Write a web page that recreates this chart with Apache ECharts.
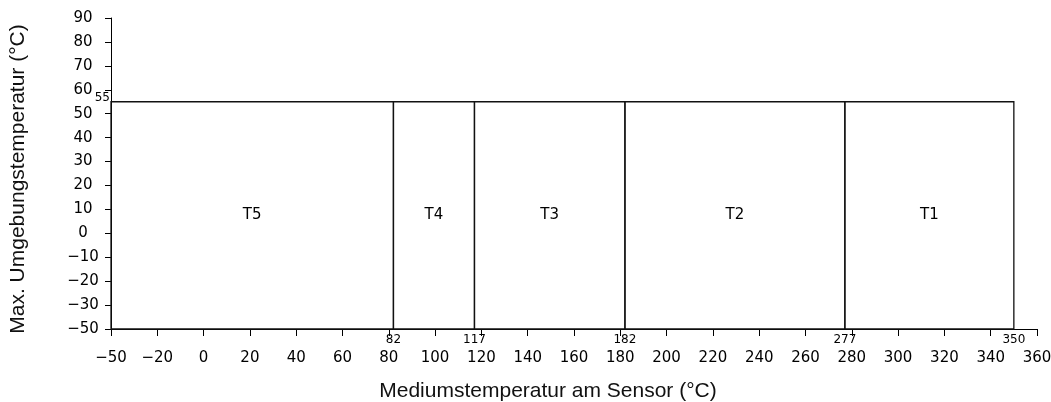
<!DOCTYPE html>
<html>
<head>
<meta charset="utf-8">
<script src="https://cdn.jsdelivr.net/npm/echarts@6/dist/echarts.min.js"></script>
<style>html,body{margin:0;padding:0;background:#fff}#c{width:1051px;height:402px}</style>
</head>
<body>
<div id="c"></div>
<script>
// ---- data ----
const xTickValues = [-50, -20, 0, 20, 40, 60, 80, 100, 120, 140, 160, 180, 200, 220, 240, 260, 280, 300, 320, 340, 360];
const xTickLabels = ['\u221250', '\u221220', '0', '20', '40', '60', '80', '100', '120', '140', '160', '180', '200', '220', '240', '260', '280', '300', '320', '340', '360'];
const yTickValues = [-50, -30, -20, -10, 0, 10, 20, 30, 40, 50, 60, 70, 80, 90];
const yTickLabels = ['\u221250', '\u221230', '\u221220', '\u221210', '0', '10', '20', '30', '40', '50', '60', '70', '80', '90'];
const zoneNames = ['T5', 'T4', 'T3', 'T2', 'T1'];
const zoneUpper = [82, 117, 182, 277, 350];
const zoneStart = -50;
const ambientMax = 55;
const ambientMin = -50;

// piecewise mapping of a value onto the evenly spaced tick positions of the axis
function toIndex(v, ticks) {
  for (let i = 0; i < ticks.length - 1; i++) {
    if (v <= ticks[i + 1]) return i + (v - ticks[i]) / (ticks[i + 1] - ticks[i]);
  }
  return ticks.length - 1;
}

const zoneData = zoneNames.map((n, i) => {
  const lo = i === 0 ? zoneStart : zoneUpper[i - 1];
  return [toIndex(lo, xTickValues), toIndex(zoneUpper[i], xTickValues),
          toIndex(ambientMax, yTickValues), toIndex(ambientMin, yTickValues), n, zoneUpper[i], ambientMax];
});

const tickFont = { fontFamily: 'DejaVu Sans', fontSize: 15, color: '#000' };

const chart = echarts.init(document.getElementById('c'), null, { renderer: 'canvas' });
chart.setOption({
  animation: false,
  backgroundColor: '#fff',
  grid: { left: 111, right: 14, top: 18, bottom: 73, containLabel: false, outerBoundsMode: 'none' },
  xAxis: {
    type: 'value', min: 0, max: xTickValues.length - 1, interval: 1,
    name: 'Mediumstemperatur am Sensor (\u00b0C)', nameLocation: 'middle', nameGap: 52,
    nameTextStyle: { fontFamily: 'Liberation Sans', fontSize: 21, color: '#111', padding: [0, 52, 0, 0] },
    axisLine: { lineStyle: { color: '#000', width: 1 } },
    axisTick: { show: true, length: 7, inside: false, lineStyle: { color: '#000' } },
    axisLabel: Object.assign({ margin: 22, formatter: v => xTickLabels[Math.round(v)] ?? '' }, tickFont),
    splitLine: { show: false }
  },
  yAxis: {
    type: 'value', min: 0, max: yTickValues.length - 1, interval: 1,
    name: 'Max. Umgebungstemperatur (\u00b0C)', nameLocation: 'middle', nameGap: 82,
    nameTextStyle: { fontFamily: 'Liberation Sans', fontSize: 21, color: '#111', padding: [0, 11, 0, 0] },
    axisLine: { show: true, lineStyle: { color: '#000', width: 1 } },
    axisTick: { show: true, length: 6, inside: false, lineStyle: { color: '#000' } },
    axisLabel: Object.assign({ margin: 28, align: 'center', formatter: v => yTickLabels[Math.round(v)] ?? '' }, tickFont),
    splitLine: { show: false }
  },
  series: [{
    type: 'custom',
    data: zoneData,
    renderItem: function (params, api) {
      const p0 = api.coord([api.value(0), api.value(2)]);
      const p1 = api.coord([api.value(1), api.value(3)]);
      const children = [
        {
          type: 'rect',
          shape: { x: p0[0], y: p0[1], width: p1[0] - p0[0], height: p1[1] - p0[1] },
          style: { fill: 'none', stroke: '#111', lineWidth: 1.3 }
        },
        {
          type: 'text',
          style: {
            x: (p0[0] + p1[0]) / 2, y: (p0[1] + p1[1]) / 2,
            text: api.value(4), align: 'center', verticalAlign: 'middle',
            font: '15px "DejaVu Sans"', fill: '#000'
          }
        },
        {
          type: 'text',
          style: {
            x: p1[0], y: p1[1] + 5,
            text: String(api.value(5)), align: 'center', verticalAlign: 'top',
            font: '12px "DejaVu Sans"', fill: '#000'
          }
        }
      ];
      if (params.dataIndex === 0) {
        children.push({
          type: 'text',
          style: {
            x: p0[0] - 1, y: p0[1] + 2,
            text: String(api.value(6)), align: 'right', verticalAlign: 'bottom',
            font: '12px "DejaVu Sans"', fill: '#000'
          }
        });
      }
      return { type: 'group', children: children };
    }
  }]
});
</script>
</body>
</html>
